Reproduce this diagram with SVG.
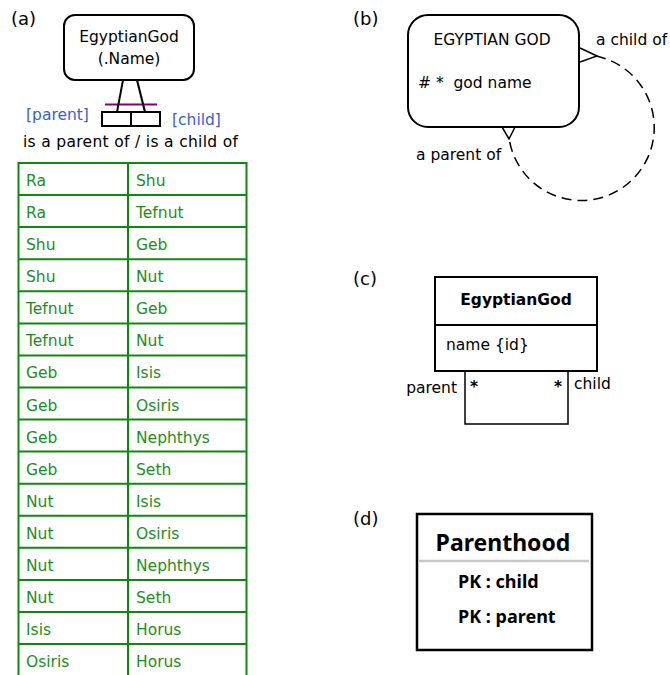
<svg xmlns="http://www.w3.org/2000/svg" width="670" height="675" viewBox="0 0 670 675">
<style>
text{font-family:"DejaVu Sans",Verdana,sans-serif;font-size:15.5px;fill:#000}
.lbl{font-size:18px}
.cell{fill:#1e8c1e}
.grid{stroke:#108810;stroke-width:2;fill:none}
.blue{fill:#3a5fcd}
.bold{font-weight:bold}
.ln{stroke:#000;stroke-width:2;fill:none}
.d{font-family:"Noto Sans","Open Sans",sans-serif;font-weight:bold}
</style>
<rect width="670" height="675" fill="#fff"/>
<text class="lbl" x="11" y="25">(a)</text>
<text class="lbl" x="353" y="25">(b)</text>
<text class="lbl" x="353" y="285">(c)</text>
<text class="lbl" x="353" y="525">(d)</text>

<!-- (a) ORM -->
<g id="a-entity">
<rect x="64" y="15" width="130" height="65" rx="11" class="ln"/>
<text x="129" y="42" text-anchor="middle">EgyptianGod</text>
<text x="129" y="64" text-anchor="middle">(.Name)</text>
</g>
<g id="a-fact">
<rect x="102" y="112" width="29" height="14" class="ln"/>
<rect x="131" y="112" width="29" height="14" class="ln"/>
<line x1="105" y1="104.5" x2="157" y2="104.5" stroke="#800080" stroke-width="2"/>
<text x="26" y="120" class="blue">[parent]</text>
<text x="172" y="125" class="blue">[child]</text>
<text x="23" y="147" textLength="215">is a parent of / is a child of</text>
</g>
<g id="a-connectors">
<line x1="123" y1="80" x2="117" y2="112" class="ln"/>
<line x1="137" y1="80" x2="145" y2="112" class="ln"/>
</g>
<g id="a-table">
<rect x="18.5" y="163" width="228" height="514" class="grid"/>
<line x1="128" y1="163" x2="128" y2="677" class="grid"/>
<line x1="18" y1="195.1" x2="247" y2="195.1" class="grid"/>
<line x1="18" y1="227.1" x2="247" y2="227.1" class="grid"/>
<line x1="18" y1="259.2" x2="247" y2="259.2" class="grid"/>
<line x1="18" y1="291.3" x2="247" y2="291.3" class="grid"/>
<line x1="18" y1="323.4" x2="247" y2="323.4" class="grid"/>
<line x1="18" y1="355.4" x2="247" y2="355.4" class="grid"/>
<line x1="18" y1="387.5" x2="247" y2="387.5" class="grid"/>
<line x1="18" y1="419.6" x2="247" y2="419.6" class="grid"/>
<line x1="18" y1="451.6" x2="247" y2="451.6" class="grid"/>
<line x1="18" y1="483.7" x2="247" y2="483.7" class="grid"/>
<line x1="18" y1="515.8" x2="247" y2="515.8" class="grid"/>
<line x1="18" y1="547.8" x2="247" y2="547.8" class="grid"/>
<line x1="18" y1="579.9" x2="247" y2="579.9" class="grid"/>
<line x1="18" y1="612" x2="247" y2="612" class="grid"/>
<line x1="18" y1="644.1" x2="247" y2="644.1" class="grid"/>
<g class="cell">
<text class="cell" x="26" y="186">Ra</text><text class="cell" x="136" y="186">Shu</text>
<text class="cell" x="26" y="218.1">Ra</text><text class="cell" x="136" y="218.1">Tefnut</text>
<text class="cell" x="26" y="250.1">Shu</text><text class="cell" x="136" y="250.1">Geb</text>
<text class="cell" x="26" y="282.2">Shu</text><text class="cell" x="136" y="282.2">Nut</text>
<text class="cell" x="26" y="314.3">Tefnut</text><text class="cell" x="136" y="314.3">Geb</text>
<text class="cell" x="26" y="346.4">Tefnut</text><text class="cell" x="136" y="346.4">Nut</text>
<text class="cell" x="26" y="378.4">Geb</text><text class="cell" x="136" y="378.4">Isis</text>
<text class="cell" x="26" y="410.5">Geb</text><text class="cell" x="136" y="410.5">Osiris</text>
<text class="cell" x="26" y="442.6">Geb</text><text class="cell" x="136" y="442.6">Nephthys</text>
<text class="cell" x="26" y="474.6">Geb</text><text class="cell" x="136" y="474.6">Seth</text>
<text class="cell" x="26" y="506.7">Nut</text><text class="cell" x="136" y="506.7">Isis</text>
<text class="cell" x="26" y="538.8">Nut</text><text class="cell" x="136" y="538.8">Osiris</text>
<text class="cell" x="26" y="570.8">Nut</text><text class="cell" x="136" y="570.8">Nephthys</text>
<text class="cell" x="26" y="602.9">Nut</text><text class="cell" x="136" y="602.9">Seth</text>
<text class="cell" x="26" y="635">Isis</text><text class="cell" x="136" y="635">Horus</text>
<text class="cell" x="26" y="667.1">Osiris</text><text class="cell" x="136" y="667.1">Horus</text>
</g>
</g>

<!-- (b) Barker ER -->
<g id="b-entity">
<rect x="408" y="15" width="171" height="112" rx="20" class="ln"/>
<text x="492" y="45" text-anchor="middle">EGYPTIAN GOD</text>
<text x="418" y="88" xml:space="preserve"># *  god name</text>
</g>
<g id="b-connectors">
<path d="M596,56 A73,73 0 1 1 509,138" stroke="#000" stroke-width="1.5" fill="none" stroke-dasharray="10,6"/>
<path d="M580,48 L597,56 L580,62" stroke="#000" stroke-width="1.5" fill="none"/>
<path d="M502,127 L509,139 L515,127" stroke="#000" stroke-width="1.5" fill="none"/>
<text x="596" y="45">a child of</text>
<text x="416" y="160">a parent of</text>
</g>

<!-- (c) UML -->
<g id="c-class">
<rect x="435" y="277" width="162" height="94" class="ln"/>
<line x1="435" y1="325" x2="597" y2="325" class="ln"/>
<text x="516" y="305" text-anchor="middle" class="bold">EgyptianGod</text>
<text x="446" y="350">name {id}</text>
</g>
<g id="c-connectors">
<path d="M465,371 V424 H568 V371" stroke="#000" stroke-width="1.5" fill="none"/>
<text x="457" y="393" text-anchor="end">parent</text>
<text x="470" y="392" class="bold">*</text>
<text x="554" y="392" class="bold">*</text>
<text x="574" y="389">child</text>
</g>

<!-- (d) table -->
<g id="d-table">
<rect x="417" y="514" width="175" height="136" stroke="#000" stroke-width="2.5" fill="none"/>
<line x1="418" y1="561" x2="589" y2="561" stroke="#c8c8c8" stroke-width="2.5"/>
<text x="503" y="551" text-anchor="middle" class="d" style="font-size:23px">Parenthood</text>
<text x="458" y="588" class="d" style="font-size:18px">PK : child</text>
<text x="458" y="623" class="d" style="font-size:18px">PK : parent</text>
</g>
</svg>
